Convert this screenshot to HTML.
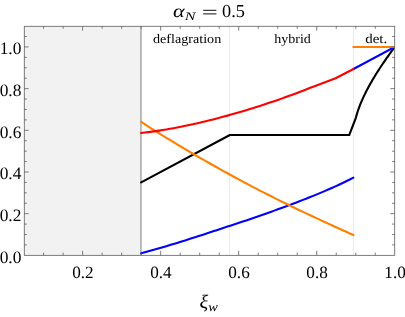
<!DOCTYPE html>
<html><head><meta charset="utf-8"><title>alpha_N = 0.5</title>
<style>
html,body{margin:0;padding:0;background:#fff;}
body{width:405px;height:317px;overflow:hidden;}
svg{display:block;}
text{font-family:"Liberation Serif",serif;fill:#000;text-rendering:geometricPrecision;}
</style></head><body>
<svg width="405" height="317" viewBox="0 0 405 317">
<rect x="0" y="0" width="405" height="317" fill="#fff"/>
<rect x="24.10" y="26.11" width="117.06" height="229.24" fill="#f2f2f2"/>
<path d="M140.96 26.11 V255.35" stroke="#acacac" stroke-width="1.6" fill="none"/>
<path d="M229.5 26.11 V255.35 M353.5 26.11 V255.35" stroke="#eaeaea" stroke-width="1" fill="none"/>
<clipPath id="pc"><rect x="24.10" y="26.11" width="370.69" height="229.24"/></clipPath>
<g clip-path="url(#pc)" fill="none" stroke-width="2.1" stroke-linejoin="round" stroke-linecap="round">
<path d="M141.16 182.41 L229.87 135.03 L349.20 135.03 L355.77 118.02 L356.77 114.40 L357.77 111.23 L358.77 108.36 L359.77 105.70 L360.77 103.20 L361.77 100.84 L362.77 98.58 L363.77 96.42 L364.77 94.33 L365.78 92.31 L366.78 90.35 L367.78 88.45 L368.78 86.59 L369.78 84.77 L370.78 82.99 L371.78 81.25 L372.78 79.54 L373.78 77.85 L374.78 76.20 L375.78 74.57 L376.78 72.97 L377.78 71.39 L378.78 69.83 L379.78 68.29 L380.78 66.76 L381.78 65.26 L382.78 63.77 L383.78 62.30 L384.78 60.84 L385.79 59.40 L386.79 57.97 L387.79 56.55 L388.79 55.15 L389.79 53.75 L390.79 52.37 L391.79 51.00 L392.79 49.64 L393.79 48.29 L394.79 46.95" stroke="#000"/>
<path d="M141.16 253.22 L144.76 252.28 L148.36 251.30 L151.95 250.31 L155.55 249.30 L159.15 248.27 L162.75 247.22 L166.34 246.16 L169.94 245.08 L173.54 243.99 L177.14 242.89 L180.73 241.77 L184.33 240.65 L187.93 239.51 L191.53 238.36 L195.12 237.21 L198.72 236.05 L202.32 234.89 L205.92 233.71 L209.51 232.54 L213.11 231.36 L216.71 230.18 L220.31 228.99 L223.91 227.81 L227.50 226.62 L231.10 225.44 L234.70 224.25 L238.30 223.05 L241.89 221.84 L245.49 220.63 L249.09 219.41 L252.69 218.18 L256.28 216.94 L259.88 215.70 L263.48 214.44 L267.08 213.18 L270.67 211.90 L274.27 210.62 L277.87 209.32 L281.47 208.01 L285.06 206.69 L288.66 205.36 L292.26 204.01 L295.86 202.65 L299.45 201.28 L303.05 199.89 L306.65 198.48 L310.25 197.05 L313.85 195.60 L317.44 194.13 L321.04 192.64 L324.64 191.12 L328.24 189.58 L331.83 188.00 L335.43 186.39 L339.03 184.74 L342.63 183.05 L346.22 181.31 L349.82 179.52 L353.42 177.67" stroke="#0000ff"/>
<path d="M353.46 69.02 L394.79 46.95" stroke="#0000ff"/>
<path d="M141.16 121.90 L144.76 124.21 L148.36 126.51 L151.95 128.80 L155.55 131.07 L159.15 133.32 L162.75 135.55 L166.34 137.77 L169.94 139.98 L173.54 142.17 L177.14 144.34 L180.73 146.50 L184.33 148.64 L187.93 150.77 L191.53 152.88 L195.12 154.98 L198.72 157.06 L202.32 159.13 L205.92 161.19 L209.51 163.24 L213.11 165.27 L216.71 167.29 L220.31 169.30 L223.91 171.30 L227.50 173.28 L231.10 175.26 L234.70 177.22 L238.30 179.17 L241.89 181.10 L245.49 183.02 L249.09 184.93 L252.69 186.82 L256.28 188.69 L259.88 190.56 L263.48 192.41 L267.08 194.24 L270.67 196.06 L274.27 197.87 L277.87 199.67 L281.47 201.45 L285.06 203.22 L288.66 204.98 L292.26 206.73 L295.86 208.47 L299.45 210.19 L303.05 211.90 L306.65 213.61 L310.25 215.30 L313.85 216.98 L317.44 218.66 L321.04 220.33 L324.64 221.99 L328.24 223.64 L331.83 225.28 L335.43 226.92 L339.03 228.56 L342.63 230.19 L346.22 231.82 L349.82 233.45 L353.42 235.08" stroke="#ff8000"/>
<path d="M353.46 46.95 L394.79 46.95" stroke="#ff8000"/>
<path d="M141.16 132.97 L144.76 132.56 L148.36 132.13 L151.95 131.66 L155.55 131.15 L159.15 130.61 L162.75 130.05 L166.34 129.45 L169.94 128.83 L173.54 128.17 L177.14 127.50 L180.73 126.79 L184.33 126.06 L187.93 125.31 L191.53 124.54 L195.12 123.74 L198.72 122.92 L202.32 122.08 L205.92 121.22 L209.51 120.34 L213.11 119.43 L216.71 118.51 L220.31 117.57 L223.91 116.60 L227.50 115.62 L231.10 114.61 L234.70 113.59 L238.30 112.55 L241.89 111.49 L245.49 110.41 L249.09 109.32 L252.69 108.20 L256.28 107.07 L259.88 105.92 L263.48 104.75 L267.08 103.56 L270.67 102.36 L274.27 101.14 L277.87 99.89 L281.47 98.63 L285.06 97.35 L288.66 96.05 L292.26 94.74 L295.86 93.40 L299.45 92.04 L303.05 90.66 L306.65 89.26 L310.25 87.85 L313.85 86.41 L335.60 78.30 L353.46 69.02" stroke="#ff0000"/>
</g>
<path d="M43.61 255.35 v-2.70 M43.61 26.11 v2.70 M63.12 255.35 v-2.70 M63.12 26.11 v2.70 M82.63 255.35 v-4.50 M82.63 26.11 v4.50 M102.14 255.35 v-2.70 M102.14 26.11 v2.70 M121.65 255.35 v-2.70 M121.65 26.11 v2.70 M141.16 255.35 v-2.70 M141.16 26.11 v2.70 M160.67 255.35 v-4.50 M160.67 26.11 v4.50 M180.18 255.35 v-2.70 M180.18 26.11 v2.70 M199.69 255.35 v-2.70 M199.69 26.11 v2.70 M219.20 255.35 v-2.70 M219.20 26.11 v2.70 M238.71 255.35 v-4.50 M238.71 26.11 v4.50 M258.22 255.35 v-2.70 M258.22 26.11 v2.70 M277.73 255.35 v-2.70 M277.73 26.11 v2.70 M297.24 255.35 v-2.70 M297.24 26.11 v2.70 M316.75 255.35 v-4.50 M316.75 26.11 v4.50 M336.26 255.35 v-2.70 M336.26 26.11 v2.70 M355.77 255.35 v-2.70 M355.77 26.11 v2.70 M375.28 255.35 v-2.70 M375.28 26.11 v2.70 M24.10 244.93 h2.70 M394.79 244.93 h-2.70 M24.10 234.51 h2.70 M394.79 234.51 h-2.70 M24.10 224.09 h2.70 M394.79 224.09 h-2.70 M24.10 213.67 h4.50 M394.79 213.67 h-4.50 M24.10 203.25 h2.70 M394.79 203.25 h-2.70 M24.10 192.83 h2.70 M394.79 192.83 h-2.70 M24.10 182.41 h2.70 M394.79 182.41 h-2.70 M24.10 171.99 h4.50 M394.79 171.99 h-4.50 M24.10 161.57 h2.70 M394.79 161.57 h-2.70 M24.10 151.15 h2.70 M394.79 151.15 h-2.70 M24.10 140.73 h2.70 M394.79 140.73 h-2.70 M24.10 130.31 h4.50 M394.79 130.31 h-4.50 M24.10 119.89 h2.70 M394.79 119.89 h-2.70 M24.10 109.47 h2.70 M394.79 109.47 h-2.70 M24.10 99.05 h2.70 M394.79 99.05 h-2.70 M24.10 88.63 h4.50 M394.79 88.63 h-4.50 M24.10 78.21 h2.70 M394.79 78.21 h-2.70 M24.10 67.79 h2.70 M394.79 67.79 h-2.70 M24.10 57.37 h2.70 M394.79 57.37 h-2.70 M24.10 46.95 h4.50 M394.79 46.95 h-4.50 M24.10 36.53 h2.70 M394.79 36.53 h-2.70" stroke="#666" stroke-width="0.85" fill="none"/>
<rect x="24.30" y="26.30" width="370.40" height="229.05" fill="none" stroke="#666" stroke-width="0.85"/>
<filter id="nf" x="-5%" y="-5%" width="110%" height="110%"><feOffset dx="0" dy="0"/></filter>
<g filter="url(#nf)">
<text x="21.40" y="262.55" font-size="17.40" text-anchor="end">0.0</text>
<text x="21.40" y="220.87" font-size="17.40" text-anchor="end">0.2</text>
<text x="21.40" y="179.19" font-size="17.40" text-anchor="end">0.4</text>
<text x="21.40" y="137.51" font-size="17.40" text-anchor="end">0.6</text>
<text x="21.40" y="95.83" font-size="17.40" text-anchor="end">0.8</text>
<text x="21.40" y="54.15" font-size="17.40" text-anchor="end">1.0</text>
<text x="82.93" y="278.20" font-size="17.20" text-anchor="middle">0.2</text>
<text x="160.97" y="278.20" font-size="17.20" text-anchor="middle">0.4</text>
<text x="239.01" y="278.20" font-size="17.20" text-anchor="middle">0.6</text>
<text x="317.05" y="278.20" font-size="17.20" text-anchor="middle">0.8</text>
<text x="395.09" y="278.20" font-size="17.20" text-anchor="middle">1.0</text>
<text x="153.00" y="43.20" font-size="13.00" text-anchor="start" textLength="68.20" lengthAdjust="spacingAndGlyphs">deflagration</text>
<text x="274.20" y="43.30" font-size="13.10" text-anchor="start" textLength="36.60" lengthAdjust="spacingAndGlyphs">hybrid</text>
<text x="365.20" y="43.40" font-size="13.30" text-anchor="start" textLength="22.00" lengthAdjust="spacingAndGlyphs">det.</text>
<text transform="translate(172.90 17.20) scale(1.220 1)" font-size="18.20" text-anchor="start" font-style="italic">α</text>
<text x="184.70" y="20.10" font-size="11.30" text-anchor="start" textLength="10.80" lengthAdjust="spacingAndGlyphs" font-style="italic">N</text>
<path d="M203.2 10.3 H216.4 M203.2 13.9 H216.4" stroke="#000" stroke-width="0.95" fill="none"/>
<text x="222.10" y="17.40" font-size="18.30" text-anchor="start">0.5</text>
<text transform="translate(199.40 308.10) scale(1.060 1)" font-size="19.20" text-anchor="start" font-style="italic">ξ</text>
<text transform="translate(208.20 310.70) scale(1.140 1)" font-size="12.60" text-anchor="start" font-style="italic">w</text>
</g>
</svg>
</body></html>
